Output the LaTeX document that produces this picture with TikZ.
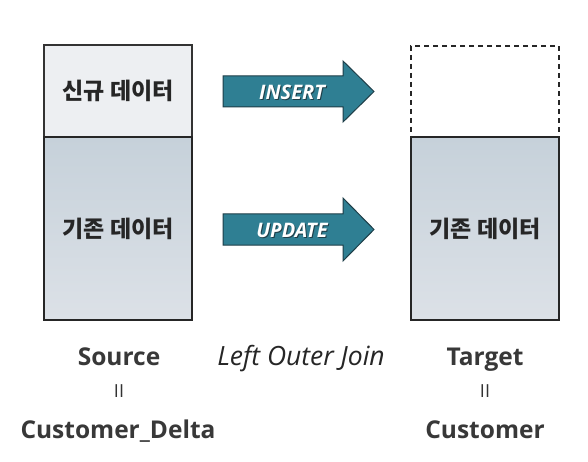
\documentclass[tikz,border=0pt]{standalone}
\usepackage{fontspec}
\setmainfont{Open Sans}
\newfontfamily\kor{Noto Sans CJK KR}
\definecolor{arrowfill}{HTML}{2F7F93}
\definecolor{arrowline}{HTML}{1E3E48}
\definecolor{lightfill}{HTML}{EDEFF2}
\definecolor{gradtop}{HTML}{C6D1DA}
\definecolor{gradbot}{HTML}{DCE1E7}
\begin{document}
\begin{tikzpicture}[x=1pt,y=-1pt,
  boxbase/.style={rectangle, minimum width=148pt, inner sep=0pt, line width=1.4pt},
  newbox/.style={boxbase, draw=black!80, fill=lightfill, minimum height=92pt},
  oldbox/.style={boxbase, draw=black!85, top color=gradtop, bottom color=gradbot, minimum height=183pt},
  emptybox/.style={boxbase, draw=black!85, dashed, dash pattern=on 5pt off 4pt, minimum height=91pt},
  kortext/.style={font=\kor\bfseries\fontsize{23}{26}\selectfont, text=black!85},
  fatarrow/.style={fill=arrowfill, draw=arrowline, line width=1pt, line join=miter},
  arrowlabel/.style={font=\bfseries\itshape\fontsize{20}{22}\selectfont, text=white},
  arrowshadow/.style={font=\bfseries\itshape\fontsize{20}{22}\selectfont, text=arrowline},
  caption/.style={anchor=base, font=\bfseries\fontsize{24.5}{28}\selectfont, text=black!78},
  joinlabel/.style={anchor=base, font=\itshape\fontsize{26.5}{30}\selectfont, text=black!85},
  eqmark/.style={anchor=base, font=\fontsize{18}{20}\selectfont, text=black!80}]
\useasboundingbox (0,0) rectangle (588,462);
\fill[white] (0,0) rectangle (588,462);
% Source
\node[newbox] (srcnew) at (118,91) {};
\node[oldbox] (srcold) at (118,228.5) {};
\node[kortext] (srcnewt) at (srcnew.center) {신규 데이터};
\node[kortext] (srcoldt) at (srcold.center) {기존 데이터};
% Target
\node[emptybox] (tgtnew) at (485,91.5) {};
\node[oldbox] (tgtold) at (485,228.5) {};
\node[kortext] (tgtoldt) at (tgtold.center) {기존 데이터};
% Arrows
\draw[fatarrow] (223,76) -- (343,76) -- (343,61) -- (374,91.5) -- (343,122) -- (343,107) -- (223,107) -- cycle;
\node[arrowshadow] (insshadow) at (293,93) {INSERT};
\node[arrowlabel] (ins) at (292,92) {INSERT};
\draw[fatarrow] (223,214) -- (343,214) -- (343,198) -- (374,229.5) -- (343,261) -- (343,245) -- (223,245) -- cycle;
\node[arrowshadow] (updshadow) at (293,231) {UPDATE};
\node[arrowlabel] (upd) at (292,230) {UPDATE};
% Captions
\node[caption] (src) at (119,365) {Source};
\node[eqmark] (srceq) at (119,397) {II};
\node[caption] (srcname) at (118,438) {Customer\_Delta};
\node[joinlabel] (join) at (301,365) {Left Outer Join};
\node[caption] (tgt) at (485,365) {Target};
\node[eqmark] (tgteq) at (485,397) {II};
\node[caption] (tgtname) at (485,438) {Customer};
\end{tikzpicture}
\end{document}
